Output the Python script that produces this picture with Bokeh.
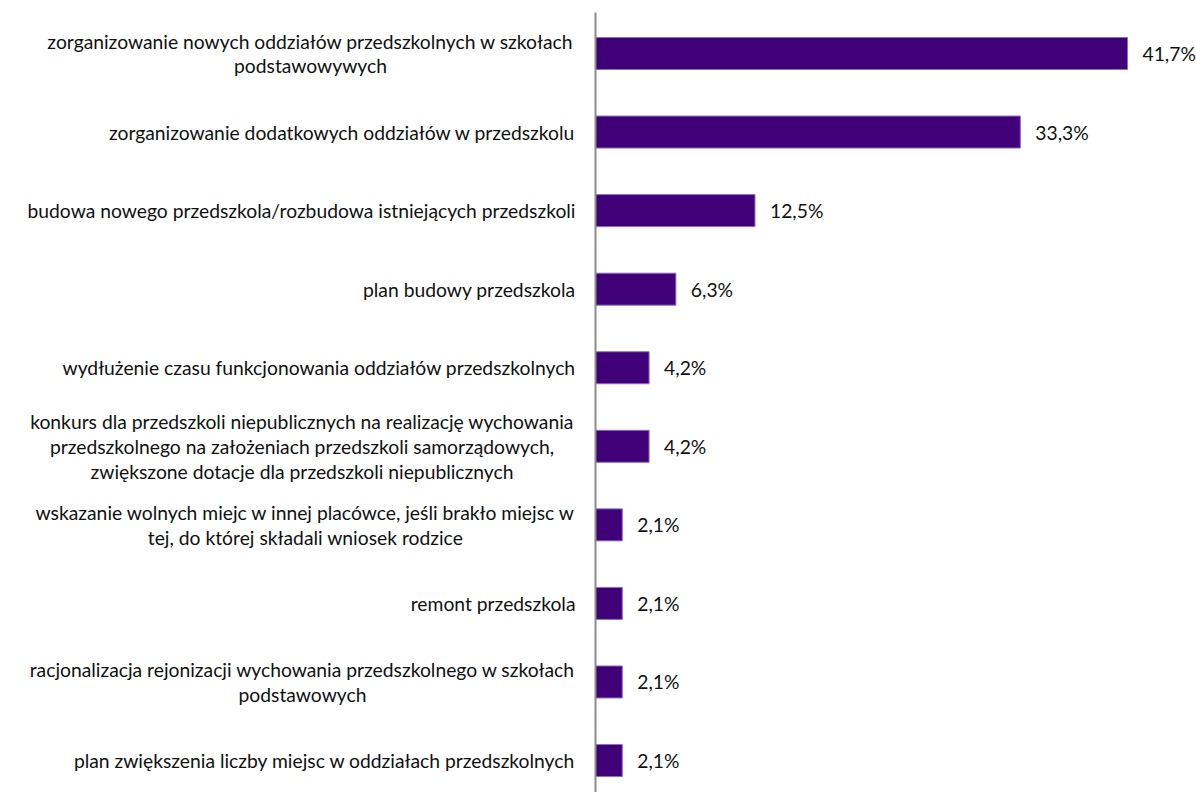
from bokeh.plotting import figure
from bokeh.models import ColumnDataSource, Range1d
from bokeh.embed import file_html
from bokeh.resources import INLINE
from bokeh.core.properties import value

categories = [
    "zorganizowanie nowych oddziałów przedszkolnych w szkołach\npodstawowywych",
    "zorganizowanie dodatkowych oddziałów w przedszkolu",
    "budowa nowego przedszkola/rozbudowa istniejących przedszkoli",
    "plan budowy przedszkola",
    "wydłużenie czasu funkcjonowania oddziałów przedszkolnych",
    "konkurs dla przedszkoli niepublicznych na realizację wychowania\nprzedszkolnego na założeniach przedszkoli samorządowych,\nzwiększone dotacje dla przedszkoli niepublicznych",
    "wskazanie wolnych miejc w innej placówce, jeśli brakło miejsc w\ntej, do której składali wniosek rodzice",
    "remont przedszkola",
    "racjonalizacja rejonizacji wychowania przedszkolnego w szkołach\npodstawowych",
    "plan zwiększenia liczby miejsc w oddziałach przedszkolnych",
]
values = [41.7, 33.3, 12.5, 6.3, 4.2, 4.2, 2.1, 2.1, 2.1, 2.1]
value_labels = ["41,7%", "33,3%", "12,5%", "6,3%", "4,2%", "4,2%", "2,1%", "2,1%", "2,1%", "2,1%"]

# layout (pixels)
W, H = 1196, 792
AXIS_X = 595          # axis position inside figure
PX_PER_UNIT = 532 / 41.7
ROW0, ROW_STEP = 53, 78.56
BAR_H_PX = 32
LABEL_GAP = 20
# widths of multi-line label blocks (px), matched to the rendered font
block_w = [530, 0, 0, 0, 0, 547, 540, 0, 546, 0]

FONT = "Lato"
FSIZE = "19.3px"

x0 = -AXIS_X / PX_PER_UNIT
x1 = (W - AXIS_X) / PX_PER_UNIT
y_top = -ROW0 / ROW_STEP
y_bot = (H - ROW0) / ROW_STEP

p = figure(width=W, height=H, output_backend="svg", toolbar_location=None,
           x_range=Range1d(x0, x1), y_range=Range1d(y_bot, y_top),
           min_border=0, outline_line_color=None)
p.xaxis.visible = False
p.yaxis.visible = False
p.grid.visible = False

ys = list(range(len(categories)))
src = ColumnDataSource(dict(y=ys, v=values, lab=value_labels, cat=categories))

p.hbar(y="y", left=0, right="v", height=BAR_H_PX / ROW_STEP, source=src,
       fill_color="#3F0078", line_color="#8A6FC0", line_width=1)

p.segment(x0=[0], y0=[y_top + 12 / ROW_STEP], x1=[0], y1=[y_bot],
          line_color="#8C8C8C", line_width=2)

p.text(x="v", y="y", text="lab", source=src, x_offset=15,
       text_align="left", text_baseline="middle",
       text_font=value(FONT), text_font_size=FSIZE, text_color="#111111")

single = dict(y=[], cat=[])
multi = dict(y=[], cat=[], off=[])
for i, c in enumerate(categories):
    if "\n" in c:
        multi["y"].append(i); multi["cat"].append(c)
        multi["off"].append(-(LABEL_GAP + block_w[i] / 2))
    else:
        single["y"].append(i); single["cat"].append(c)

p.text(x=0, y="y", text="cat", source=ColumnDataSource(single), x_offset=-LABEL_GAP,
       text_align="right", text_baseline="middle", text_line_height=1.08,
       text_font=value(FONT), text_font_size=FSIZE, text_color="#111111")
p.text(x=0, y="y", text="cat", source=ColumnDataSource(multi), x_offset="off",
       text_align="center", text_baseline="middle", text_line_height=1.08,
       text_font=value(FONT), text_font_size=FSIZE, text_color="#111111")

open("out.html", "w").write(file_html(p, INLINE))
